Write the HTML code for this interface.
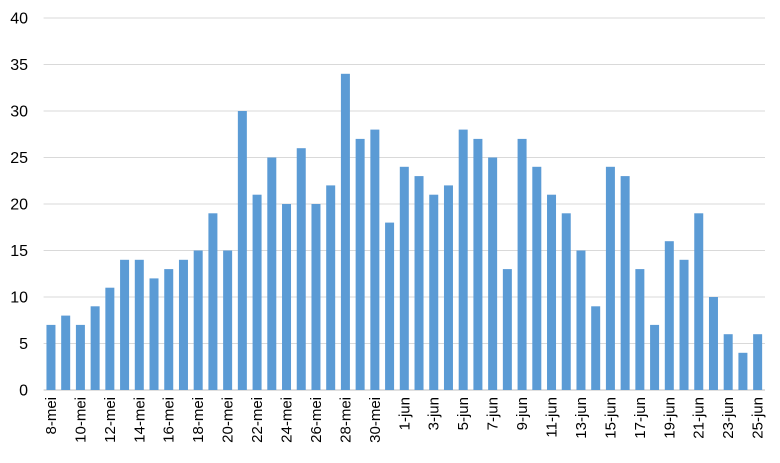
<!DOCTYPE html>
<html><head><meta charset="utf-8"><style>
html,body{margin:0;padding:0;background:#fff;}
svg{display:block;font-family:"Liberation Sans",sans-serif;}
</style></head><body>
<svg id="chart" width="780" height="463" viewBox="0 0 780 463">
<g id="grid"></g>
<g id="yaxis"></g>
<g id="bars"></g>
<g id="xaxis"></g>
</svg>
<script>
const categories = [];
for (let d = 8; d <= 31; d++) categories.push(d + '-mei');
for (let d = 1; d <= 25; d++) categories.push(d + '-jun');
const values = [7,8,7,9,11,14,14,12,13,14,15,19,15,30,21,25,20,26,20,22,34,27,28,18,
24,23,21,22,28,27,25,13,27,24,21,19,15,9,24,23,13,7,16,14,19,10,6,4,6];
const yTicks = [0,5,10,15,20,25,30,35,40];

const NS = 'http://www.w3.org/2000/svg';
const plotL = 43.6, plotR = 765, plotT = 18, plotB = 390, yMax = 40;
const step = (plotR - plotL) / categories.length;
const barW = 9;
const yScale = v => plotB - (v / yMax) * (plotB - plotT);
const xc = i => plotL + step * (i + 0.5);
function mk(tag, attrs, parent) {
  const e = document.createElementNS(NS, tag);
  for (const k in attrs) e.setAttribute(k, attrs[k]);
  parent.appendChild(e);
  return e;
}
const gGrid = document.getElementById('grid'), gY = document.getElementById('yaxis'),
      gBars = document.getElementById('bars'), gX = document.getElementById('xaxis');
yTicks.forEach(t => {
  const ln = mk('line', {x1: plotL, x2: plotR, y1: yScale(t), y2: yScale(t), stroke: t === 0 ? '#bfbfbf' : '#d9d9d9', 'stroke-width': 1}, gGrid);
  
  
  const tx = mk('text', {x: 28, y: yScale(t) + 5.5, 'text-anchor': 'end', 'font-size': 16, fill: '#000'}, gY);
  tx.textContent = t;
  
  
});
values.forEach((v, i) => {
  const r = mk('rect', {x: xc(i) - barW / 2, y: yScale(v), width: barW, height: plotB - yScale(v), fill: '#5b9bd5'}, gBars);
  
  
});
categories.forEach((c, i) => {
  if (i % 2) return;
  const tx = mk('text', {x: 0, y: 0, 'text-anchor': 'end', 'font-size': 15, fill: '#000',
    transform: 'translate(' + (xc(i) + 5) + ',' + (plotB + 7) + ') rotate(-90)'}, gX);
  tx.textContent = c;
  
  
});
</script>
</body></html>
